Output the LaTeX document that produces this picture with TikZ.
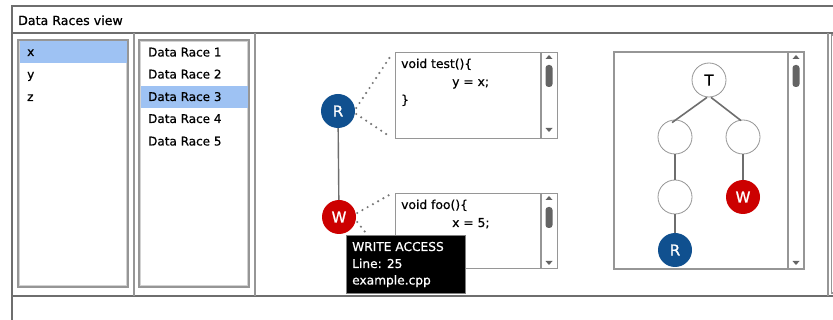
\documentclass[tikz,border=0pt]{standalone}
\usepackage{fontspec}
\setmainfont{DejaVu Sans}
\newfontfamily\uisans{DejaVu Sans}[RawFeature={embolden=0.6}]
\newfontfamily\markfont{DejaVu Sans}[RawFeature={embolden=1.2}]
\usetikzlibrary{calc}
\definecolor{frame}{RGB}{110,110,110}
\definecolor{sep}{RGB}{150,150,150}
\definecolor{selblue}{RGB}{158,194,243}
\definecolor{rblue}{RGB}{16,80,143}
\definecolor{wred}{RGB}{204,0,0}
\definecolor{scroll}{RGB}{100,100,100}
\definecolor{dotgray}{RGB}{120,120,120}
\begin{document}
\begin{tikzpicture}[x=1pt,y=-1pt,
  txt/.style={anchor=base west,inner sep=0pt,font=\uisans\fontsize{12}{14}\selectfont},
  codetxt/.style={txt,font=\uisans\fontsize{12.3}{14}\selectfont},
  tiptxt/.style={txt,text=white,font=\uisans\fontsize{12.2}{14}\selectfont},
  listbox/.style={draw=sep,line width=1.2pt},
  codebox/.style={draw=sep,line width=1.2pt,fill=white},
  access/.style={circle,minimum size=34pt,inner sep=0pt,text=white,font=\markfont\fontsize{15}{16}\selectfont},
  tnode/.style={circle,minimum size=34pt,inner sep=0pt,draw=sep,line width=0.8pt,fill=white,font=\uisans\fontsize{15}{16}\selectfont},
  tedge/.style={draw=frame,line width=1.6pt},
  dots/.style={draw=dotgray,line width=2.4pt,line cap=round,dash pattern=on 0pt off 6pt},
  thumb/.style={fill=scroll,rounded corners=3pt},
  tri/.style={fill=scroll}
]
\useasboundingbox (0,0) rectangle (833,320);
\fill[white] (0,0) rectangle (833,320);

% window frame, title bar and panel separators
\draw[frame,line width=1.3pt] (12,320) -- (12,6) -- (833,6);
\draw[frame,line width=1.3pt] (12,33) -- (833,33);
\draw[frame,line width=1.3pt] (12,296) -- (833,296);
\draw[sep,line width=1.3pt] (134,33) -- (134,296);
\draw[sep,line width=1.3pt] (255,33) -- (255,296);
\draw[sep,line width=1.3pt] (828,33) -- (828,296);
\node[txt,font=\uisans\fontsize{12.6}{14}\selectfont] (title) at (18,25) {Data Races view};

% next panel, partly visible
\draw[sep,line width=1.2pt] (840,35) -- (831.5,35) -- (831.5,293) -- (840,293);
\fill[scroll] (833,45) rectangle (835,63);

% variable list
\draw[listbox] (18,40) rectangle (128,287);
\draw[gray!35,line width=0.8pt] (19.5,41.5) rectangle (126.5,285.5);
\fill[selblue] (19.5,41.5) rectangle (126.5,63);
\node[txt] (vx) at (27,56) {x};
\node[txt] (vy) at (27,78.5) {y};
\node[txt] (vz) at (27,101) {z};

% data race list
\draw[listbox] (139,40) rectangle (249,287);
\draw[gray!35,line width=0.8pt] (140.5,41.5) rectangle (247.5,285.5);
\fill[selblue] (140.5,86) rectangle (247.5,108);
\node[txt] (dr1) at (148,56.5) {Data Race 1};
\node[txt] (dr2) at (148,78.5) {Data Race 2};
\node[txt] (dr3) at (148,101) {Data Race 3};
\node[txt] (dr4) at (148,123) {Data Race 4};
\node[txt] (dr5) at (148,145.5) {Data Race 5};

% race detail: accesses and their code
\node[access,fill=rblue] (R) at (338,111) {R};
\node[access,fill=wred] (W) at (339,217) {W};
\draw[tedge,line width=1.4pt] (R) -- (W);

\node[codebox,minimum width=162pt,minimum height=86pt,anchor=north west,inner sep=0pt] (code1) at (395,52) {};
\node[codebox,minimum width=162pt,minimum height=75pt,anchor=north west,inner sep=0pt] (code2) at (395,193) {};

\draw[dots] ($(R.east)+(1,-3)$) -- ($(code1.north west)+(-5,5)$);
\draw[dots] ($(R.east)+(1,3)$) -- ($(code1.south west)+(-4,-2)$);
\draw[dots] ($(W.east)+(1,-4)$) -- ($(code2.north west)+(-4,1)$);
\draw[dots] ($(W.east)+(1,5)$) -- ($(code2.south west)+(-2,-2)$);

\node[codetxt] (c1a) at (401,68) {void test()\{};
\node[codetxt] (c1b) at (452,86) {y = x;};
\node[codetxt] (c1c) at (401,104) {\}};
\draw[sep,line width=1.2pt] (541,52) -- (541,138);
\fill[thumb] (545.5,65) rectangle (552.5,87);
\fill[tri] (545.5,59) -- (552.5,59) -- (549,55) -- cycle;
\fill[tri] (545.5,128) -- (552.5,128) -- (549,132) -- cycle;

\node[codetxt] (c2a) at (401,209) {void foo()\{};
\node[codetxt] (c2b) at (452,227) {x = 5;};
\draw[sep,line width=1.2pt] (541,193) -- (541,268);
\fill[thumb] (545.5,207) rectangle (552.5,228);
\fill[tri] (545.5,200) -- (552.5,200) -- (549,196) -- cycle;
\fill[tri] (545.5,261) -- (552.5,261) -- (549,265) -- cycle;

% tooltip of the write access
\node[fill=black,draw=gray,line width=1pt,minimum width=119pt,minimum height=58pt,anchor=north west,inner sep=0pt] (tip) at (346,235) {};
\node[tiptxt] (t1) at (352,251) {WRITE ACCESS};
\node[tiptxt] (t2) at (352,268) {Line: 25};
\node[tiptxt] (t3) at (352,284.5) {example.cpp};

% thread tree
\node[codebox,minimum width=190pt,minimum height=217pt,anchor=north west,inner sep=0pt] (tree) at (614,52) {};
\begin{scope}
\clip (614,52) rectangle (804,269);
\node[tnode] (T) at (709,80) {T};
\node[tnode] (A) at (675,137) {};
\node[tnode] (B) at (743,137) {};
\node[tnode] (C) at (675,197) {};
\node[access,fill=wred] (Wt) at (743,197) {W};
\node[access,fill=rblue] (Rt) at (675,250) {R};
\draw[tedge] ($(T.south)+(-2,0)$) -- ($(A.north)+(-3,3)$);
\draw[tedge] ($(T.south)+(2,0)$) -- ($(B.north)+(-2,1)$);
\draw[tedge] (A) -- (C);
\draw[tedge] (C) -- (Rt);
\draw[tedge] (B) -- (Wt);
\end{scope}
\draw[sep,line width=1.2pt] (614,52) rectangle (804,269);
\draw[sep,line width=1.2pt] (788,52) -- (788,269);
\fill[thumb] (792.5,65) rectangle (799.5,87);
\fill[tri] (792.5,59) -- (799.5,59) -- (796,55) -- cycle;
\fill[tri] (792.5,261) -- (799.5,261) -- (796,265) -- cycle;
\end{tikzpicture}
\end{document}
